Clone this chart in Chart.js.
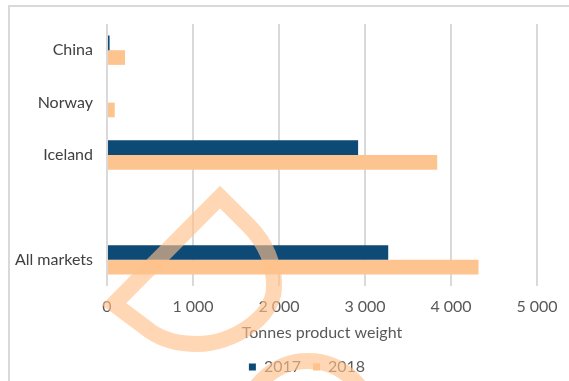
<!DOCTYPE html>
<html>
<head>
<meta charset="utf-8">
<script src="https://cdn.jsdelivr.net/npm/chart.js@4"></script>
<style>
    html, body { margin: 0; padding: 0; background: #fff; overflow: hidden; }
    #frame {
        position: absolute; left: 8px; top: 5px;
        width: 600px; height: 420px;
        border: 2px solid #d9d9d9;
    }
    #wrap { position: absolute; left: 0; top: 0; width: 569px; height: 385px; }
</style>
</head>
<body>
<div id="frame"></div>
<div id="wrap"><canvas id="chart"></canvas></div>
<script>
const categories = ["China", "Norway", "Iceland", "", "All markets"];
const values2017 = [30, 0, 2920, null, 3270];
const values2018 = [210, 90, 3840, null, 4320];
const xTicks = [0, 1000, 2000, 3000, 4000, 5000];
const seriesNames = ["2017", "2018"];

// decorative watermark drawn over the chart
const watermark = {
    id: "watermark",
    afterLayout(chart) {
        // legend sits a little left of the plot centre
        chart.legend.left -= 15;
        chart.legend.right -= 15;
    },
    afterDraw(chart) {
        const ctx = chart.ctx;
        ctx.save();
        ctx.strokeStyle = "rgba(255, 192, 139, 0.64)";
        ctx.lineWidth = 16;
        ctx.lineJoin = "miter";
        ctx.beginPath();
        ctx.moveTo(114, 304);
        ctx.lineTo(220, 197);
        ctx.lineTo(248, 225);
        ctx.bezierCurveTo(262, 239, 275, 260, 274, 288);
        ctx.bezierCurveTo(273, 318, 232, 344, 197, 344);
        ctx.bezierCurveTo(175, 344, 160, 338, 150, 331);
        ctx.closePath();
        ctx.stroke();
        ctx.beginPath();
        ctx.arc(308, 425, 64, 0, 2 * Math.PI);
        ctx.stroke();
        ctx.restore();
    },
};

new Chart(document.getElementById("chart"), {
    type: "bar",
    data: {
        labels: categories,
        datasets: [
            {
                label: seriesNames[0],
                data: values2017,
                backgroundColor: "#0d4a76",
                barPercentage: 1,
                categoryPercentage: 0.56,
            },
            {
                label: seriesNames[1],
                data: values2018,
                backgroundColor: "#fdc490",
                barPercentage: 1,
                categoryPercentage: 0.56,
            },
        ],
    },
    options: {
        indexAxis: "y",
        responsive: true,
        maintainAspectRatio: false,
        animation: false,
        layout: { padding: { top: 24, right: 32, left: 0, bottom: 0 } },
        scales: {
            x: {
                min: 0,
                max: 5000,
                afterBuildTicks(scale) {
                    scale.ticks = xTicks.map((v) => ({ value: v }));
                },
                afterFit(scale) {
                    scale.height = 61;
                },
                grid: { color: "#d9d9d9", lineWidth: 2, drawTicks: false },
                border: { display: false },
                ticks: {
                    color: "#595959",
                    font: { family: "Lato", size: 16 },
                    padding: 11,
                    callback: (v) => String(v).replace(/\B(?=(\d{3})+(?!\d))/g, " "),
                },
                title: {
                    display: true,
                    text: "Tonnes product weight",
                    color: "#595959",
                    font: { family: "Lato", size: 16 },
                    padding: { top: 4, bottom: 5 },
                },
            },
            y: {
                grid: { display: false, drawTicks: false },
                border: { display: false },
                ticks: {
                    color: "#404040",
                    font: { family: "Lato", size: 16 },
                    padding: 14,
                },
                afterFit(scale) {
                    scale.width = 107;
                },
            },
        },
        plugins: {
            legend: {
                position: "bottom",
                fullSize: false,
                labels: {
                    color: "#595959",
                    font: { family: "Lato", size: 16 },
                    boxWidth: 7,
                    boxHeight: 7,
                    padding: 12,
                },
            },
            tooltip: { enabled: false },
        },
    },
    plugins: [watermark],
});
</script>
</body>
</html>
